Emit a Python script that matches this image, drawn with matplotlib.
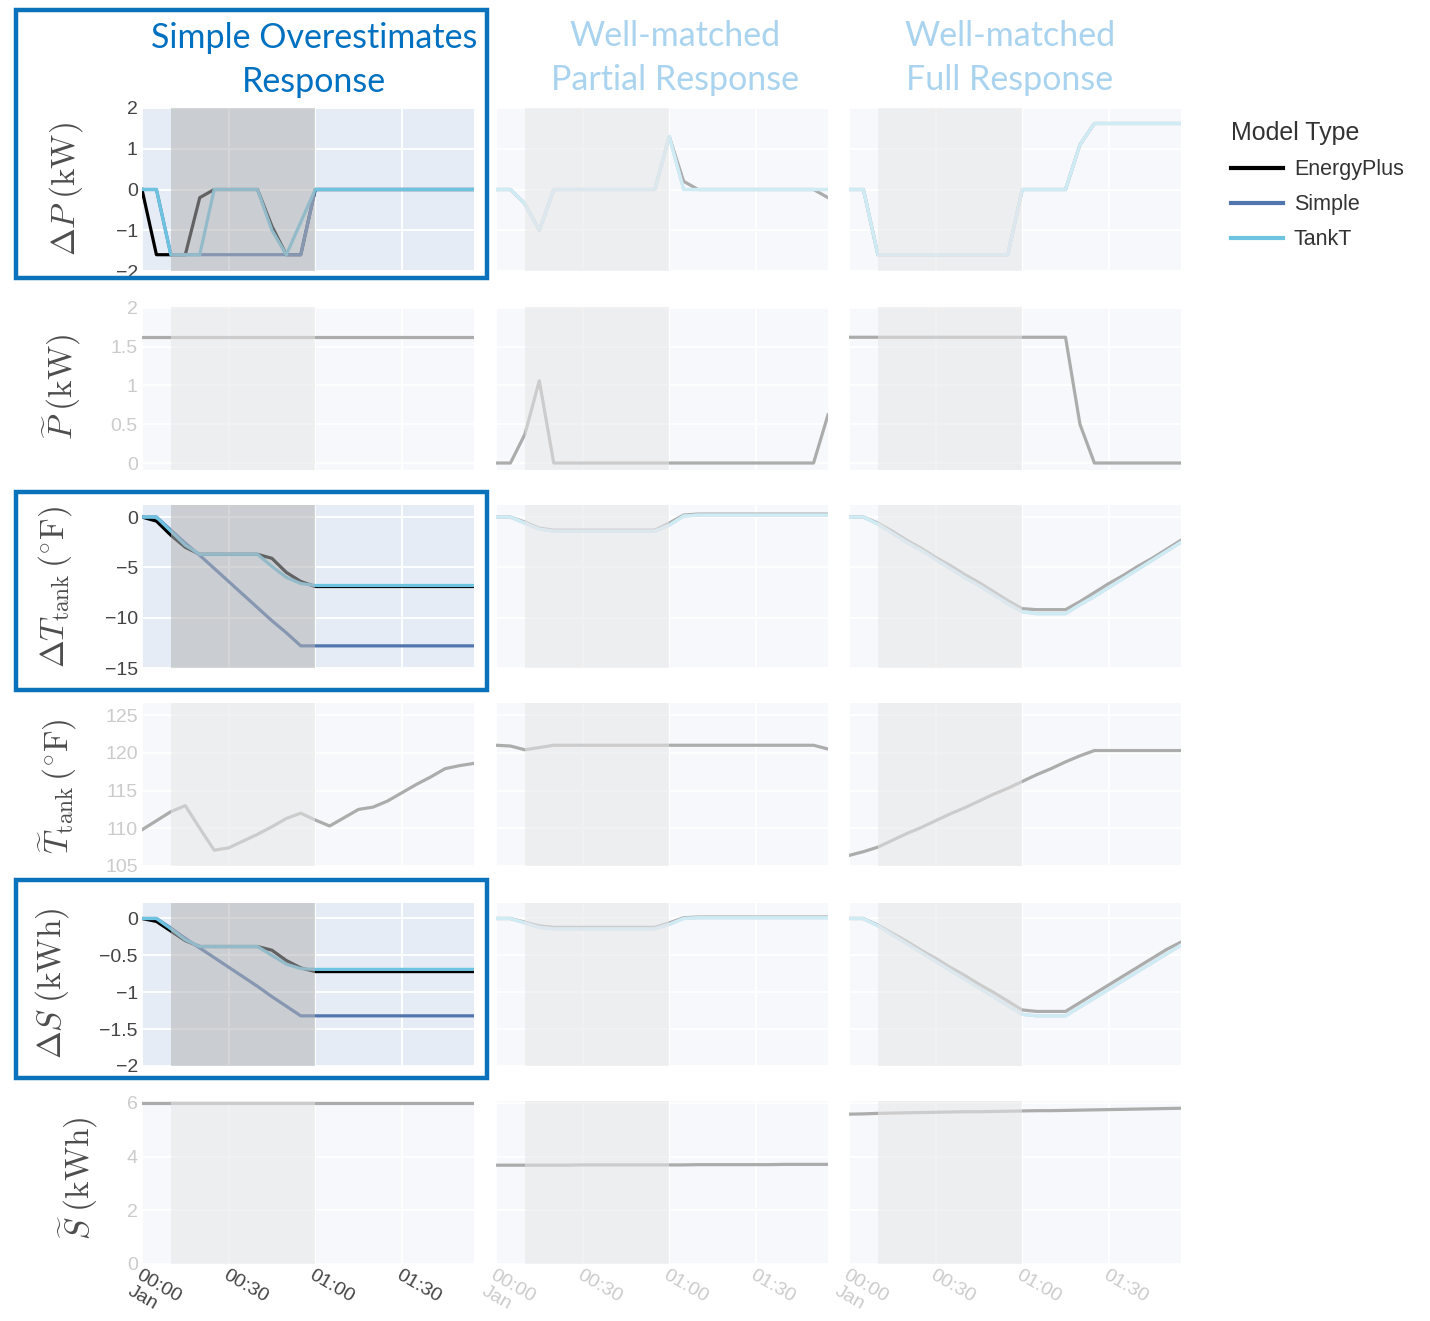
import matplotlib
matplotlib.use("Agg")
import matplotlib.pyplot as plt
from matplotlib.patches import Rectangle
from matplotlib.colors import to_rgb

plt.rcParams['font.family'] = ['Liberation Sans', 'DejaVu Sans']
plt.rcParams['mathtext.fontset'] = 'cm'

# time axis (minutes after 00:00, Jan 1)
minutes = [0, 5, 10, 15, 20, 25, 30, 35, 40, 45, 50, 55,
           60, 65, 70, 75, 80, 85, 90, 95, 100, 105, 110, 115]
tick_minutes = [0, 30, 60, 90]
tick_labels = ["00:00\nJan", "00:30", "01:00", "01:30"]
event_start, event_end = 10, 60

model_names = ["EnergyPlus", "Simple", "TankT"]
model_colors = ["#000000", "#5175ad", "#6dc3e0"]

col_titles = ["Simple Overestimates\nResponse",
              "Well-matched\nPartial Response",
              "Well-matched\nFull Response"]
row_labels = [r"$\Delta P\;(\mathrm{kW})$",
              r"$\widetilde{P}\;(\mathrm{kW})$",
              r"$\Delta T_{\mathrm{tank}}\,(^{\circ}\mathrm{F})$",
              r"$\widetilde{T}_{\mathrm{tank}}\,(^{\circ}\mathrm{F})$",
              r"$\Delta S\;(\mathrm{kWh})$",
              r"$\widetilde{S}\;(\mathrm{kWh})$"]
row_ticks = [[-2, -1, 0, 1, 2],
             [0, 0.5, 1, 1.5, 2],
             [-15, -10, -5, 0],
             [105, 110, 115, 120, 125],
             [-2, -1.5, -1, -0.5, 0],
             [0, 2, 4, 6]]
row_limits = [(-2, 2), (-0.09, 2.01), (-15, 1.2), (105, 126.6), (-2, 0.21), (0, 6.07)]

# ---- Delta P (kW)
dp_col1_eplus = [0, -1.6, -1.6, -1.6, -0.2, 0, 0, 0, 0, -0.9, -1.6, -1.6,
                 0, 0, 0, 0, 0, 0, 0, 0, 0, 0, 0, 0]
dp_col1_simple = [0, 0, -1.6, -1.6, -1.6, -1.6, -1.6, -1.6, -1.6, -1.6, -1.6, -1.6,
                  0, 0, 0, 0, 0, 0, 0, 0, 0, 0, 0, 0]
dp_col1_tankt = [0, 0, -1.6, -1.6, -1.6, 0, 0, 0, 0, -1.0, -1.6, -0.8,
                 0, 0, 0, 0, 0, 0, 0, 0, 0, 0, 0, 0]
dp_col2_eplus = [0, 0, -0.35, -1.0, 0, 0, 0, 0, 0, 0, 0, 0,
                 1.3, 0.2, 0, 0, 0, 0, 0, 0, 0, 0, 0, -0.2]
dp_col2_simple = [0, 0, -0.35, -1.0, 0, 0, 0, 0, 0, 0, 0, 0,
                  1.3, 0, 0, 0, 0, 0, 0, 0, 0, 0, 0, 0]
dp_col2_tankt = [0, 0, -0.35, -1.0, 0, 0, 0, 0, 0, 0, 0, 0,
                 1.3, 0, 0, 0, 0, 0, 0, 0, 0, 0, 0, 0]
dp_col3_eplus = [0, 0, -1.6, -1.6, -1.6, -1.6, -1.6, -1.6, -1.6, -1.6, -1.6, -1.6,
                 0, 0, 0, 0, 1.1, 1.62, 1.62, 1.62, 1.62, 1.62, 1.62, 1.62]
dp_col3_simple = [0, 0, -1.6, -1.6, -1.6, -1.6, -1.6, -1.6, -1.6, -1.6, -1.6, -1.6,
                  0, 0, 0, 0, 1.1, 1.62, 1.62, 1.62, 1.62, 1.62, 1.62, 1.62]
dp_col3_tankt = [0, 0, -1.6, -1.6, -1.6, -1.6, -1.6, -1.6, -1.6, -1.6, -1.6, -1.6,
                 0, 0, 0, 0, 1.1, 1.62, 1.62, 1.62, 1.62, 1.62, 1.62, 1.62]

# ---- baseline power P~ (kW)
pb_col1 = [1.62, 1.62, 1.62, 1.62, 1.62, 1.62, 1.62, 1.62, 1.62, 1.62, 1.62, 1.62,
           1.62, 1.62, 1.62, 1.62, 1.62, 1.62, 1.62, 1.62, 1.62, 1.62, 1.62, 1.62]
pb_col2 = [0, 0, 0.37, 1.06, 0, 0, 0, 0, 0, 0, 0, 0,
           0, 0, 0, 0, 0, 0, 0, 0, 0, 0, 0, 0.62]
pb_col3 = [1.62, 1.62, 1.62, 1.62, 1.62, 1.62, 1.62, 1.62, 1.62, 1.62, 1.62, 1.62,
           1.62, 1.62, 1.62, 1.62, 0.5, 0, 0, 0, 0, 0, 0, 0]

# ---- Delta T_tank (F)
dt_col1_eplus = [0, -0.4, -1.8, -3.0, -3.7, -3.7, -3.7, -3.7, -3.7, -4.1, -5.5, -6.4,
                 -6.9, -6.9, -6.9, -6.9, -6.9, -6.9, -6.9, -6.9, -6.9, -6.9, -6.9, -6.9]
dt_col1_simple = [0, 0, -1.3, -2.6, -3.8, -5.1, -6.4, -7.7, -9.0, -10.3, -11.5, -12.8,
                  -12.8, -12.8, -12.8, -12.8, -12.8, -12.8, -12.8, -12.8, -12.8, -12.8, -12.8, -12.8]
dt_col1_tankt = [0, 0, -1.4, -2.8, -3.7, -3.7, -3.7, -3.7, -3.7, -4.9, -6.0, -6.6,
                 -6.8, -6.8, -6.8, -6.8, -6.8, -6.8, -6.8, -6.8, -6.8, -6.8, -6.8, -6.8]
dt_col2_eplus = [0, 0, -0.5, -1.1, -1.3, -1.3, -1.3, -1.3, -1.3, -1.3, -1.3, -1.3,
                 -0.6, 0.2, 0.3, 0.3, 0.3, 0.3, 0.3, 0.3, 0.3, 0.3, 0.3, 0.3]
dt_col2_simple = [0, 0, -0.6, -1.2, -1.4, -1.4, -1.4, -1.4, -1.4, -1.4, -1.4, -1.4,
                  -0.8, 0.1, 0.2, 0.2, 0.2, 0.2, 0.2, 0.2, 0.2, 0.2, 0.2, 0.2]
dt_col2_tankt = [0, 0, -0.6, -1.2, -1.4, -1.4, -1.4, -1.4, -1.4, -1.4, -1.4, -1.4,
                 -0.8, 0.1, 0.2, 0.2, 0.2, 0.2, 0.2, 0.2, 0.2, 0.2, 0.2, 0.2]
dt_col3_eplus = [0, 0, -0.6, -1.4, -2.3, -3.1, -4.0, -4.8, -5.7, -6.5, -7.4, -8.3,
                 -9.1, -9.2, -9.2, -9.2, -8.4, -7.5, -6.6, -5.8, -4.9, -4.1, -3.2, -2.3]
dt_col3_simple = [0, 0, -0.7, -1.6, -2.5, -3.3, -4.2, -5.1, -6.0, -6.8, -7.7, -8.6,
                  -9.4, -9.6, -9.6, -9.6, -8.7, -7.9, -7.0, -6.1, -5.2, -4.3, -3.4, -2.5]
dt_col3_tankt = [0, 0, -0.7, -1.6, -2.5, -3.3, -4.2, -5.1, -6.0, -6.8, -7.7, -8.6,
                 -9.4, -9.6, -9.6, -9.6, -8.7, -7.9, -7.0, -6.1, -5.2, -4.3, -3.4, -2.5]

# ---- baseline tank temperature T~ (F)
tb_col1 = [109.8, 111.0, 112.2, 113.0, 110.0, 107.1, 107.4, 108.3, 109.2, 110.2, 111.3, 112.0,
           111.1, 110.3, 111.4, 112.5, 112.8, 113.6, 114.7, 115.8, 116.8, 117.9, 118.3, 118.6]
tb_col2 = [121.0, 120.9, 120.4, 120.7, 121.0, 121.0, 121.0, 121.0, 121.0, 121.0, 121.0, 121.0,
           121.0, 121.0, 121.0, 121.0, 121.0, 121.0, 121.0, 121.0, 121.0, 121.0, 121.0, 120.5]
tb_col3 = [106.4, 106.9, 107.5, 108.4, 109.3, 110.1, 111.0, 111.9, 112.7, 113.6, 114.5, 115.3,
           116.2, 117.1, 117.9, 118.8, 119.6, 120.3, 120.3, 120.3, 120.3, 120.3, 120.3, 120.3]

# ---- Delta S (kWh)
ds_col1_eplus = [0, -0.04, -0.17, -0.3, -0.38, -0.38, -0.38, -0.38, -0.38, -0.43, -0.57, -0.67,
                 -0.72, -0.72, -0.72, -0.72, -0.72, -0.72, -0.72, -0.72, -0.72, -0.72, -0.72, -0.72]
ds_col1_simple = [0, 0, -0.13, -0.27, -0.40, -0.53, -0.66, -0.79, -0.92, -1.06, -1.19, -1.32,
                  -1.32, -1.32, -1.32, -1.32, -1.32, -1.32, -1.32, -1.32, -1.32, -1.32, -1.32, -1.32]
ds_col1_tankt = [0, 0, -0.14, -0.29, -0.38, -0.38, -0.38, -0.38, -0.38, -0.5, -0.62, -0.68,
                 -0.69, -0.69, -0.69, -0.69, -0.69, -0.69, -0.69, -0.69, -0.69, -0.69, -0.69, -0.69]
ds_col2_eplus = [0, 0, -0.05, -0.1, -0.12, -0.12, -0.12, -0.12, -0.12, -0.12, -0.12, -0.12,
                 -0.06, 0.01, 0.02, 0.02, 0.02, 0.02, 0.02, 0.02, 0.02, 0.02, 0.02, 0.02]
ds_col2_simple = [0, 0, -0.06, -0.12, -0.14, -0.14, -0.14, -0.14, -0.14, -0.14, -0.14, -0.14,
                  -0.08, 0.0, 0.01, 0.01, 0.01, 0.01, 0.01, 0.01, 0.01, 0.01, 0.01, 0.01]
ds_col2_tankt = [0, 0, -0.06, -0.12, -0.14, -0.14, -0.14, -0.14, -0.14, -0.14, -0.14, -0.14,
                 -0.08, 0.0, 0.01, 0.01, 0.01, 0.01, 0.01, 0.01, 0.01, 0.01, 0.01, 0.01]
ds_col3_eplus = [0, 0, -0.09, -0.2, -0.31, -0.43, -0.54, -0.66, -0.77, -0.89, -1.0, -1.12,
                 -1.24, -1.26, -1.26, -1.26, -1.14, -1.02, -0.9, -0.78, -0.66, -0.54, -0.42, -0.32]
ds_col3_simple = [0, 0, -0.1, -0.22, -0.34, -0.46, -0.58, -0.7, -0.82, -0.94, -1.06, -1.18,
                  -1.3, -1.32, -1.32, -1.32, -1.2, -1.08, -0.96, -0.84, -0.72, -0.6, -0.48, -0.36]
ds_col3_tankt = [0, 0, -0.1, -0.22, -0.34, -0.46, -0.58, -0.7, -0.82, -0.94, -1.06, -1.18,
                 -1.3, -1.32, -1.32, -1.32, -1.2, -1.08, -0.96, -0.84, -0.72, -0.6, -0.48, -0.36]

# ---- baseline storage S~ (kWh)
sb_col1 = [5.99, 5.99, 5.99, 5.99, 5.99, 5.99, 5.99, 5.99, 5.99, 5.99, 5.99, 5.99,
           5.99, 5.99, 5.99, 5.99, 5.99, 5.99, 5.99, 5.99, 5.99, 5.99, 5.99, 5.99]
sb_col2 = [3.68, 3.68, 3.68, 3.68, 3.68, 3.68, 3.69, 3.69, 3.69, 3.69, 3.69, 3.69,
           3.69, 3.69, 3.70, 3.70, 3.70, 3.70, 3.70, 3.70, 3.71, 3.71, 3.71, 3.71]
sb_col3 = [5.58, 5.59, 5.61, 5.62, 5.63, 5.64, 5.65, 5.66, 5.67, 5.67, 5.68, 5.69,
           5.70, 5.71, 5.71, 5.72, 5.73, 5.74, 5.75, 5.76, 5.77, 5.78, 5.79, 5.80]

panels = [
    [[dp_col1_eplus, dp_col1_simple, dp_col1_tankt],
     [dp_col2_eplus, dp_col2_simple, dp_col2_tankt],
     [dp_col3_eplus, dp_col3_simple, dp_col3_tankt]],
    [[pb_col1], [pb_col2], [pb_col3]],
    [[dt_col1_eplus, dt_col1_simple, dt_col1_tankt],
     [dt_col2_eplus, dt_col2_simple, dt_col2_tankt],
     [dt_col3_eplus, dt_col3_simple, dt_col3_tankt]],
    [[tb_col1], [tb_col2], [tb_col3]],
    [[ds_col1_eplus, ds_col1_simple, ds_col1_tankt],
     [ds_col2_eplus, ds_col2_simple, ds_col2_tankt],
     [ds_col3_eplus, ds_col3_simple, ds_col3_tankt]],
    [[sb_col1], [sb_col2], [sb_col3]],
]

highlighted = [(0, 0), (2, 0), (4, 0)]

W, H = 1430, 1321
col_left = [142, 496, 849]
row_top = [108, 307, 505, 703, 903, 1101]
ax_w, ax_h = 332, 163


def fade(color, k=0.68):
    r, g, b = to_rgb(color)
    return (r + (1 - r) * k, g + (1 - g) * k, b + (1 - b) * k)


def fmt(v):
    s = ("%g" % v)
    return s.replace("-", "\u2212")


fig = plt.figure(figsize=(W / 100, H / 100), dpi=100)

legend_lines = None
for r in range(6):
    for c in range(3):
        ax = fig.add_axes([col_left[c] / W, 1 - (row_top[r] + ax_h) / H, ax_w / W, ax_h / H])
        ax.set_facecolor("#E5ECF6")
        for sp in ax.spines.values():
            sp.set_visible(False)
        ax.grid(True, color="white", linewidth=1.3)
        ax.set_axisbelow(True)
        series = panels[r][c]
        lines = []
        for i, ys in enumerate(series):
            ln, = ax.plot(minutes, ys, color=model_colors[i], linewidth=2.3, zorder=2,
                          label=model_names[i])
            lines.append(ln)
        if (r, c) == (0, 0):
            legend_lines = lines
        ax.axvspan(event_start, event_end, color="#b4b4b6", alpha=0.55, lw=0, zorder=3)
        ax.set_xlim(minutes[0], minutes[-1])
        ax.set_ylim(*row_limits[r])
        ax.set_xticks(tick_minutes)
        ax.set_yticks(row_ticks[r])
        ax.tick_params(length=0, pad=3, labelsize=14)

        is_hl = (r, c) in highlighted
        tick_col = "#444444" if is_hl else fade("#444444", 0.72)
        if c == 0:
            ax.set_yticklabels([fmt(v) for v in row_ticks[r]], color=tick_col)
        else:
            ax.set_yticklabels([])
        if r == 5:
            xcol = "#444444" if c == 0 else fade("#444444", 0.72)
            ax.set_xticklabels(tick_labels, rotation=-30, ha="left", va="top",
                               rotation_mode="anchor", color=xcol, fontsize=14,
                               linespacing=1.1)
            ax.tick_params(axis="x", pad=2)
        else:
            ax.set_xticklabels([])

        if not is_hl:
            ax.add_patch(Rectangle((0, 0), 1, 1, transform=ax.transAxes, facecolor="white",
                                   edgecolor="none", alpha=0.68, zorder=10))

# y axis labels
label_pos = [(66, 189), (62, 387), (55, 587), (58, 786), (52, 983), (78, 1178)]
for (lx, ly), txt in zip(label_pos, row_labels):
    fig.text(lx / W, 1 - ly / H, txt, rotation=90, ha="center", va="center",
             fontsize=24, color="#4d4d4d")

# column titles
title_pos = [(314, 60), (675, 58), (1010, 58)]
title_cols = ["#0070C0", "#a9d3ee", "#a9d3ee"]
for (tx, ty), txt, tc in zip(title_pos, col_titles, title_cols):
    fig.text(tx / W, 1 - ty / H, txt, ha="center", va="center", fontsize=24.5,
             family=["Lato", "DejaVu Sans"], color=tc, linespacing=1.5)

# highlight boxes
for y0, y1 in [(10, 278), (492, 690), (880, 1078)]:
    fig.add_artist(Rectangle((16 / W, 1 - y1 / H), 471 / W, (y1 - y0) / H,
                             transform=fig.transFigure, fill=False,
                             edgecolor="#0A72BA", linewidth=3.2))

leg = fig.legend(handles=legend_lines, labels=model_names, loc="upper left",
                 bbox_to_anchor=(1212 / W, 1 - 102 / H), frameon=False,
                 title="Model Type", fontsize=15.5, title_fontsize=18,
                 handlelength=2.4, handletextpad=0.5, labelspacing=0.65)
leg._legend_box.align = "left"
leg._legend_box.sep = 10
for t in leg.get_texts():
    t.set_color("#333333")
leg.get_title().set_color("#333333")
for lh in leg.get_lines():
    lh.set_linewidth(3)

fig.savefig("out.png", dpi=100)
